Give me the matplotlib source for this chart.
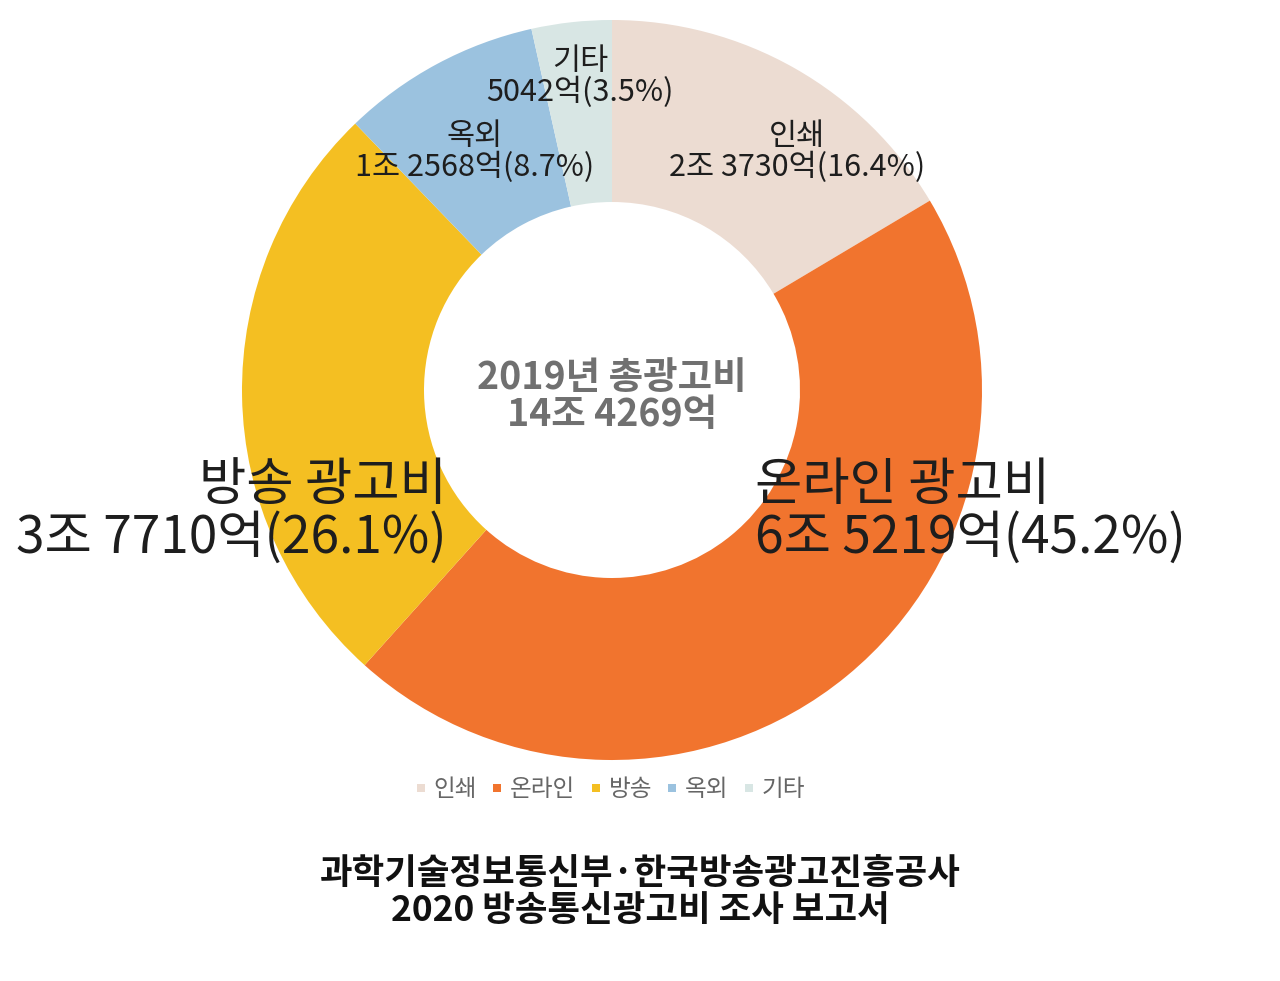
import matplotlib.pyplot as plt
from matplotlib.lines import Line2D

plt.rcParams['font.family'] = ['Noto Sans CJK KR', 'DejaVu Sans']

# 2019 advertising spend by medium (unit: 억 won)
categories = ['인쇄', '온라인', '방송', '옥외', '기타']
values = [23730, 65219, 37710, 12568, 5042]
percents = [16.4, 45.2, 26.1, 8.7, 3.5]
colors = ['#ecdcd2', '#f1742e', '#f4bf22', '#9bc2df', '#d8e6e4']
total = 144269


def fmt_won(v):
    if v >= 10000:
        return f"{v // 10000}조 {v % 10000}억"
    return f"{v}억"


W, H = 1280, 981
fig = plt.figure(figsize=(W / 100, H / 100), dpi=100)
ax = fig.add_axes([0, 0, 1, 1])

cx, cy, r_out, r_in = 612, H - 390, 370, 188
ax.pie(values, colors=colors, startangle=90, counterclock=False,
       center=(cx, cy), radius=r_out,
       wedgeprops=dict(width=r_out - r_in, linewidth=0))
ax.set_xlim(0, W)
ax.set_ylim(0, H)
ax.set_aspect('equal')
ax.axis('off')

dark = '#1e1e1e'

# small labels: centre of the two-line block
small_pos = {'인쇄': (797, 152), '옥외': (475, 152), '기타': (580, 77)}
for name, v, p in zip(categories, values, percents):
    if name in small_pos:
        x, y = small_pos[name]
        ax.text(x, H - y, f"{name}\n{fmt_won(v)}({p}%)", ha='center', va='center',
                fontsize=22, color=dark, linespacing=0.95)

# big labels
i_b = categories.index('방송')
ax.text(447, H - 512, f"방송 광고비\n{fmt_won(values[i_b])}({percents[i_b]}%)",
        ha='right', va='center', fontsize=37, color=dark, linespacing=0.98,
        multialignment='right')
i_o = categories.index('온라인')
ax.text(755, H - 512, f"온라인 광고비\n{fmt_won(values[i_o])}({percents[i_o]}%)",
        ha='left', va='center', fontsize=37, color=dark, linespacing=0.98,
        multialignment='left')

# center total
ax.text(cx, H - 396, f"2019년 총광고비\n{fmt_won(total)}", ha='center', va='center',
        fontsize=27, color='#707070', fontweight='bold', linespacing=0.92)

# legend
handles = [Line2D([0], [0], marker='s', linestyle='none', markersize=6,
                  markerfacecolor=c, markeredgewidth=0) for c in colors]
leg = ax.legend(handles, categories, loc='center', bbox_to_anchor=(610 / W, 1 - 790 / H),
                ncol=5, frameon=False, fontsize=17, handlelength=0.5, handletextpad=0.3,
                columnspacing=0.6, labelcolor='#666666')

# source
ax.text(640, H - 892, '과학기술정보통신부·한국방송광고진흥공사\n2020 방송통신광고비 조사 보고서',
        ha='center', va='center', fontsize=25.5, color='#111111', fontweight='bold',
        linespacing=1.05)

fig.savefig('out.png', dpi=100, facecolor='white')
